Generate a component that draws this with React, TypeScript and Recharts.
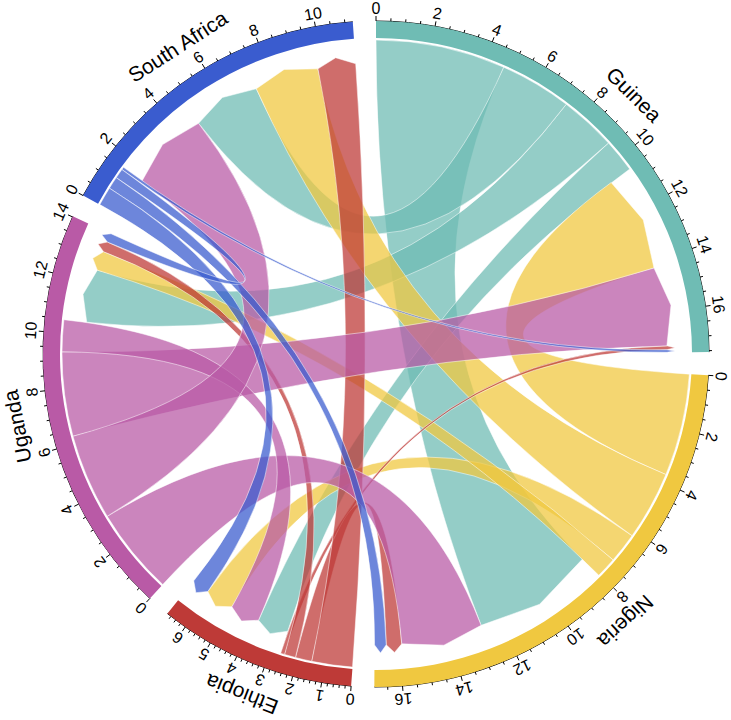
import React from 'react';
import { PieChart, Pie, Cell, Customized } from 'recharts';

const countries = ['Guinea', 'Nigeria', 'Ethiopia', 'Uganda', 'South Africa'];
const ringColors = ['#6fbcb4', '#f0c840', '#be3a37', '#b95aa6', '#3a5ccf'];

// Flow from each country to [Guinea, Nigeria, Ethiopia, Uganda, South Africa]
const guineaFlows = [0, 4.7, 1.2, 2.05, 2.6];
const nigeriaFlows = [3.7, 0, 1.1, 0.75, 2.5];
const ethiopiaFlows = [0.15, 0.6, 0, 0.4, 1.47];
const ugandaFlows = [3.05, 3.15, 1.15, 0, 3.12];
const southAfricaFlows = [0.1, 0.45, 0.68, 0.35, 0];

const majorStep = [2, 2, 1, 2, 2];
const minorPerMajor = [4, 4, 5, 4, 4];

const flows = [guineaFlows, nigeriaFlows, ethiopiaFlows, ugandaFlows, southAfricaFlows];
const N = countries.length;
const outTotals = flows.map((r) => r.reduce((a, b) => a + b, 0));
const inTotals = countries.map((_, j) => flows.reduce((a, r) => a + r[j], 0));
const totals = outTotals.map((o, i) => o + inTotals[i]);
const groupData = countries.map((name, i) => ({ name, total: totals[i] }));

const W = 731;
const H = 720;
const CX = 376;
const CY = 354;
const PAD = 4;
const R_OUT = 333;
const R_IN = 316;
const R_LINK = 314;
const R_ARROW = 291;
const R_TIP = 299;
const FONT = '"Liberation Sans", Arial, Helvetica, sans-serif';

const grand = totals.reduce((a, b) => a + b, 0);
const K = (360 - PAD * N) / grand;
const groupStart: number[] = [];
{
  let a = 0;
  for (let i = 0; i < N; i++) {
    groupStart.push(a);
    a += totals[i] * K + PAD;
  }
}

const outSeg: Record<string, [number, number]> = {};
const inSeg: Record<string, [number, number]> = {};
for (let i = 0; i < N; i++) {
  let u = 0;
  const idx = countries.map((_, j) => j);
  const outs = idx.filter((j) => flows[i][j] > 0).sort((a, b) => flows[i][b] - flows[i][a]);
  for (const j of outs) {
    const v = flows[i][j];
    outSeg[i + '-' + j] = [groupStart[i] + u * K, groupStart[i] + (u + v) * K];
    u += v;
  }
  const ins = idx.filter((j) => flows[j][i] > 0).sort((a, b) => flows[b][i] - flows[a][i]);
  for (const j of ins) {
    const v = flows[j][i];
    inSeg[j + '-' + i] = [groupStart[i] + u * K, groupStart[i] + (u + v) * K];
    u += v;
  }
}

const pt = (deg: number, r: number): [number, number] => {
  const t = (deg * Math.PI) / 180;
  return [CX + r * Math.sin(t), CY - r * Math.cos(t)];
};

const ribbonPath = (s0: number, s1: number, t0: number, t1: number) => {
  const [x0, y0] = pt(s0, R_LINK);
  const [x1, y1] = pt(s1, R_LINK);
  const [a0, b0] = pt(t0, R_ARROW);
  const [am, bm] = pt((t0 + t1) / 2, R_TIP);
  const [a1, b1] = pt(t1, R_ARROW);
  return `M${x0},${y0} A${R_LINK},${R_LINK} 0 0 1 ${x1},${y1} Q${CX},${CY} ${a0},${b0} L${am},${bm} L${a1},${b1} Q${CX},${CY} ${x0},${y0} Z`;
};

const ChordLayer = () => {
  const ribbons: React.ReactNode[] = [];
  for (let i = 0; i < N; i++) {
    for (let j = 0; j < N; j++) {
      if (flows[i][j] <= 0) continue;
      const [s0, s1] = outSeg[i + '-' + j];
      const [t0, t1] = inSeg[i + '-' + j];
      ribbons.push(
        <path
          key={`r${i}-${j}`}
          d={ribbonPath(s0, s1, t0, t1)}
          fill={ringColors[i]}
          fillOpacity={0.74}
          stroke="#ffffff"
          strokeOpacity={0.5}
          strokeWidth={1}
        />
      );
    }
  }
  const axes: React.ReactNode[] = [];
  for (let i = 0; i < N; i++) {
    const a0 = groupStart[i];
    const a1 = a0 + totals[i] * K;
    const [sx, sy] = pt(a0, R_OUT);
    const [ex, ey] = pt(a1, R_OUT);
    axes.push(
      <path key={`ax${i}`} d={`M${sx},${sy} A${R_OUT},${R_OUT} 0 0 1 ${ex},${ey}`} fill="none" stroke="#000" strokeWidth={1} />
    );
    const minor = majorStep[i] / minorPerMajor[i];
    const count = Math.floor(totals[i] / minor + 1e-9);
    for (let m = 0; m <= count; m++) {
      const v = m * minor;
      const ang = a0 + v * K;
      const isMajor = m % minorPerMajor[i] === 0;
      const [px, py] = pt(ang, R_OUT);
      const [qx, qy] = pt(ang, R_OUT + (isMajor ? 5 : 3));
      axes.push(<line key={`t${i}-${m}`} x1={px} y1={py} x2={qx} y2={qy} stroke="#000" strokeWidth={1} />);
      if (isMajor) {
        const [lx, ly] = pt(ang, 346);
        axes.push(
          <text
            key={`l${i}-${m}`}
            x={0}
            y={0}
            transform={`translate(${lx},${ly}) rotate(${ang})`}
            textAnchor="middle"
            dominantBaseline="central"
            fontSize={16}
            fontFamily={FONT}
            fill="#000"
          >
            {Math.round(v)}
          </text>
        );
      }
    }
    const mid = (a0 + a1) / 2;
    const [nx, ny] = pt(mid, 366);
    axes.push(
      <text
        key={`n${i}`}
        x={0}
        y={0}
        transform={`translate(${nx},${ny}) rotate(${mid})`}
        textAnchor="middle"
        dominantBaseline="central"
        fontSize={21}
        fontFamily={FONT}
        fill="#000"
      >
        {countries[i]}
      </text>
    );
  }
  return (
    <g>
      <g>{ribbons}</g>
      <g>{axes}</g>
    </g>
  );
};

export default function App() {
  return (
    <div style={{ position: 'absolute', left: 0, top: 0, width: W, height: H, background: '#fff' }}>
      <PieChart width={W} height={H} margin={{ top: 0, right: 0, bottom: 0, left: 0 }}>
        <Pie
          data={groupData}
          dataKey="total"
          nameKey="name"
          cx={CX}
          cy={CY}
          innerRadius={R_IN}
          outerRadius={R_OUT}
          startAngle={90}
          endAngle={-270}
          paddingAngle={PAD}
          stroke="none"
          isAnimationActive={false}
        >
          {groupData.map((g, i) => (
            <Cell key={g.name} fill={ringColors[i]} />
          ))}
        </Pie>
        <Customized component={<ChordLayer />} />
      </PieChart>
    </div>
  );
}
